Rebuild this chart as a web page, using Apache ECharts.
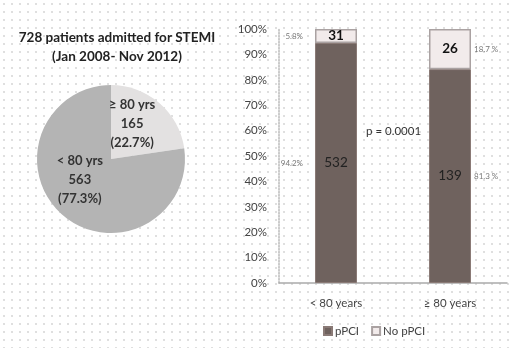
<!DOCTYPE html>
<html><head><meta charset="utf-8">
<script src="https://cdn.jsdelivr.net/npm/echarts@6/dist/echarts.min.js"></script>
<style>
html,body{margin:0;padding:0;}
body{background:#fff;background-image:radial-gradient(circle,#d4d4d4 0.6px,transparent 1px);background-size:8px 8px;}
#c{width:511px;height:348px;}
</style></head><body><div id="c"></div>
<script>
const titleLines = ['728 patients admitted for STEMI', '(Jan 2008- Nov 2012)'];
const pieNames = ['≥ 80 yrs', '< 80 yrs'];
const pieValues = [165, 563];
const piePct = ['22.7%', '77.3%'];

const categories = ['< 80 years', '≥ 80 years'];
const pPCI = [94.5, 84.2];
const noPCI = [5.5, 15.8];
const pPCICounts = [532, 139];
const noPCICounts = [31, 26];
const pPCIPctLabels = ['94.2%', '81.3 %'];
const noPCIPctLabels = ['5.8%', '18.7 %'];
const pText = 'p = 0.0001';
const font = 'Lato, "Open Sans", sans-serif';

const chart = echarts.init(document.getElementById('c'));
chart.setOption({
  animation: false,
  backgroundColor: 'transparent',
  textStyle: {fontFamily: font},
  title: {
    text: titleLines.join('\n'), left: 112, top: 23, textAlign: 'center',
    textStyle: {fontSize: 13.5, fontWeight: 'bold', color: '#222', lineHeight: 19, fontFamily: font}
  },
  legend: {
    data: ['pPCI', 'No pPCI'], left: 318, top: 320, itemWidth: 8, itemHeight: 8, itemGap: 12,
    icon: 'rect', textStyle: {fontSize: 11.5, color: '#444', fontFamily: font, padding: [0,0,0,-2]}
  },
  grid: {left: 279, right: 4, top: 29, bottom: 65},
  xAxis: {
    type: 'category', data: categories,
    axisLine: {lineStyle: {color: '#aaa', width: 1.5}}, axisTick: {show: false},
    axisLabel: {fontSize: 11.5, color: '#444', margin: 14, fontFamily: font}
  },
  yAxis: {
    type: 'value', min: 0, max: 100, interval: 10,
    axisLine: {show: true, lineStyle: {color: '#bbb', type: 'dotted', width: 1.5}},
    axisTick: {show: false}, splitLine: {show: false},
    axisLabel: {formatter: '{value}%', fontSize: 11.5, color: '#444', margin: 12, fontFamily: font}
  },
  series: [
    {
      type: 'pie', center: [111, 159], radius: 74, startAngle: 90, clockwise: true,
      silent: true,
      data: pieValues.map((v, i) => ({name: pieNames[i], value: v,
        itemStyle: {color: i === 0 ? '#e3e1e1' : '#b4b4b4'}})),
      itemStyle: {borderColor: '#fff', borderWidth: 0},
      label: {
        position: 'inside', fontSize: 13, fontWeight: 'bold', color: '#333', lineHeight: 19,
        fontFamily: font,
        formatter: p => p.name + '\n' + p.value + '\n(' + piePct[p.dataIndex] + ')'
      },
      labelLayout: p => p.dataIndex === 0 ? {dx: -5, dy: -5} : {dx: -5, dy: -9},
      labelLine: {show: false}
    },
    {
      name: 'pPCI', type: 'bar', stack: 's', barWidth: 42, data: pPCI,
      itemStyle: {color: '#6f625e', borderColor: '#8a7a76', borderWidth: 1},
      label: {show: true, position: 'inside', fontSize: 13.5, color: '#222', fontFamily: font,
        formatter: p => pPCICounts[p.dataIndex]}
    },
    {
      name: 'No pPCI', type: 'bar', stack: 's', barWidth: 42, data: noPCI,
      itemStyle: {color: '#f2ebeb', borderColor: '#aaa2a2', borderWidth: 1.5},
      label: {show: true, position: 'inside', fontSize: 13.5, fontWeight: 'bold', color: '#111', fontFamily: font,
        formatter: p => noPCICounts[p.dataIndex]}
    },
    {
      type: 'scatter', symbolSize: 0, silent: true,
      data: pPCI.map((v, i) => ({value: [i, v / 2],
        label: {position: i === 0 ? 'left' : 'right', distance: i === 0 ? 33 : 24}})),
      label: {show: true, fontSize: 8, color: '#555', fontFamily: font,
        formatter: p => pPCIPctLabels[p.dataIndex]}
    },
    {
      type: 'scatter', symbolSize: 0, silent: true,
      data: noPCI.map((v, i) => ({value: [i, pPCI[i] + v / 2],
        label: {position: i === 0 ? 'left' : 'right', distance: i === 0 ? 33 : 24}})),
      label: {show: true, fontSize: 8, color: '#555', fontFamily: font,
        formatter: p => noPCIPctLabels[p.dataIndex]}
    }
  ],
  graphic: [{
    type: 'text', left: 366, top: 125,
    style: {text: pText, fontSize: 11.5, fill: '#333', fontFamily: font}
  }]
});
</script></body></html>
